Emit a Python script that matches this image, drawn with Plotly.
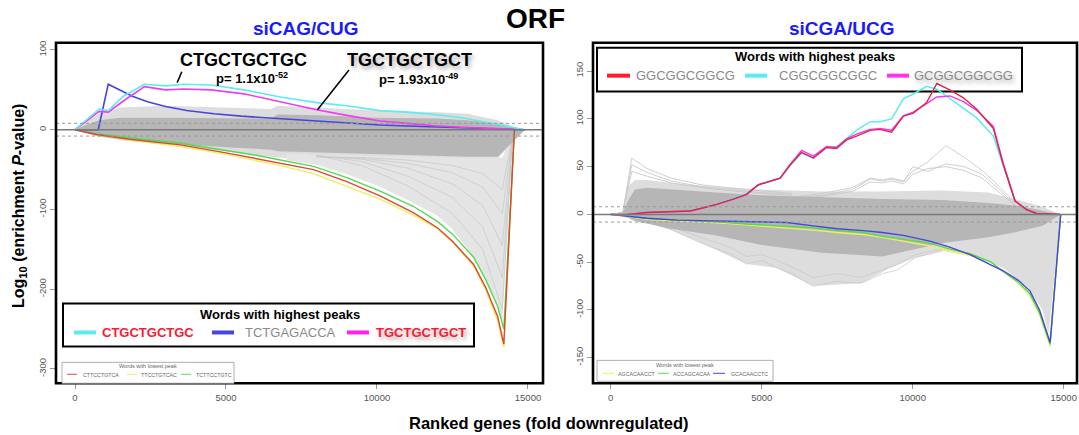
import plotly.graph_objects as go

W, H = 1079, 435
def px(x): return x / W
def py(y): return 1 - y / H

# ---------------- LEFT PANEL DATA (siCAG/CUG) ----------------
L_x_hi = [0, 500, 800, 1100, 1600, 2300, 3000, 3600, 4500, 5600, 6800, 8000, 9000, 10100, 11000, 11900, 12800, 13800, 14400, 14900]
L_y_cyan = [0, 17, 26, 24, 42, 57, 55, 57, 56, 50, 41, 34, 30, 24, 22, 19, 15, 8, 4, 0]
L_y_magenta = [0, 15, 23, 22, 36, 54, 50, 51, 50, 45, 35, 25, 18, 11, 8, 5, 3, 2, 1, 0]
L_x_blue = [0, 770, 1100, 1500, 1900, 2400, 3000, 3700, 4600, 5500, 6800, 8000, 9000, 10100, 11500, 13000, 14200, 14900]
L_y_blue = [0, 0, 57, 49, 42, 35, 29, 24, 20, 17, 14, 11, 9, 6, 4, 2, 1, 0]

L_x_lo = [0, 700, 1800, 3500, 5000, 6000, 6800, 7900, 9000, 10100, 11200, 12000, 12500, 13200, 13600, 14000, 14200, 14550]
L_y_red = [0, -6, -12, -19, -29, -36, -42, -50, -65, -83, -104, -123, -140, -169, -198, -235, -269, 0]
L_y_yellow = [0, -6, -13, -21, -31, -39, -45, -55, -71, -87, -107, -124, -141, -171, -201, -240, -273, 0]
L_y_green = [0, -5, -10, -17, -26, -32, -38, -46, -60, -77, -96, -115, -131, -160, -188, -222, -250, 0]

L_x_env = [0, 300, 800, 1500, 3000, 5000, 6500, 6700, 8000, 10000, 12000, 13000, 14000, 14500, 14900]
L_halo_top = [0, 9, 20, 28, 30, 28, 26, 30, 28, 24, 22, 20, 12, 4, 0]
L_core_top = [0, 5, 12, 15, 15, 14, 14, 19, 18, 15, 14, 12, 8, 3, 0]
L_core_bot = [0, -3, -8, -12, -17, -22, -25, -27, -29, -31, -33, -34, -34, -15, 0]
L_halo_bot = [0, -4, -9, -13, -19, -27, -34, -35, -38, -40, -40, -38, -36, -15, 0]

L_x_fan = [7000, 8000, 9000, 10000, 11000, 12000, 12500, 13000, 13500, 13900, 14150, 14500]
L_fan_top = [-30, -31, -32, -33, -34, -35, -35, -35, -35, -35, -35, -5]
L_fan_bot = [-38, -44, -56, -70, -88, -108, -125, -150, -180, -215, -240, -5]

L_x_fl = [8000, 9500, 11000, 12500, 13500, 14150, 14500]
L_y_fl = [
    [-32, -45, -70, -105, -150, -225, -5],
    [-32, -40, -58, -85, -122, -185, -5],
    [-33, -37, -48, -68, -95, -145, -5],
    [-34, -36, -42, -54, -72, -105, -5],
    [-34, -35, -38, -45, -55, -75, -5],
]

# ---------------- RIGHT PANEL DATA (siCGA/UCG) ----------------
R_x_hi = [0, 420, 1190, 2630, 3070, 3510, 4060, 4500, 4890, 5610, 5940, 6320, 6710, 7150, 7480, 7810, 8140, 8590, 8920, 9300, 9690, 10020, 10460, 10800, 11240, 11680, 12120, 12670, 13000, 13390, 13770, 14100, 14880]
R_y_red = [0, -0.5, 2, 3.5, 7, 10.5, 16, 21, 31, 38, 52, 65, 59, 70, 69, 78, 82, 88, 89, 86, 103, 106, 117, 137, 130, 122, 110, 90, 52, 14, 5, 1, 0]
R_y_magenta = [0, -0.5, 2, 3.5, 7, 10.5, 16, 21, 31, 38, 52, 67, 61, 71, 70, 79, 84, 89, 90, 88, 103, 107, 116, 123, 124, 118, 109, 92, 53, 14, 5, 1, 0]
R_y_cyan = [0, -0.5, 2, 3.5, 7, 11, 17, 22, 31, 38, 51, 64, 59, 70, 71, 80, 88, 97, 97, 100, 121, 126, 134, 131, 121, 111, 101, 82, 50, 14, 5, 1, 0]

R_x_lo = [0, 1190, 2200, 3400, 4500, 5830, 6710, 7500, 8360, 9000, 9690, 10570, 11200, 11900, 12600, 13000, 13500, 13880, 14200, 14550, 14900]
R_y_blue = [0, -4, -6, -7, -8, -8.5, -12, -15, -17, -19, -22, -28, -34, -42, -53, -59, -69, -80, -100, -134, 0]
R_y_green = [0, -4, -6, -7.5, -10, -12, -14, -17, -19, -23, -26, -30, -36, -41, -50, -60, -71, -83, -103, -136, 0]
R_y_yellow = [0, -5, -7, -8.5, -11, -14, -16.5, -19, -21, -24, -28, -33, -38, -43, -50, -60, -72, -85, -105, -138, 0]

R_x_env = [0, 400, 600, 800, 1200, 2000, 3500, 5000, 7000, 9000, 11000, 12500, 13500, 14300, 14900]
R_halo_top = [0, 3, 30, 36, 36, 33, 29, 26, 24, 24, 25, 23, 15, 8, 0]
R_core_top = [0, 2, 16, 26, 28, 26, 23, 20, 18, 16, 15, 12, 9, 4, 0]
R_core_bot = [0, -2, -4, -7, -10, -15, -22, -32, -40, -44, -30, -24, -18, -12, 0]

R_x_hb = [0, 500, 1000, 2000, 3000, 4500, 5500, 6700, 8300, 9200, 10100, 11000, 12000, 13000, 13800, 14300, 14500, 14900]
R_halo_bot = [0, -3, -6, -16, -30, -52, -56, -75, -72, -57, -45, -38, -44, -56, -76, -100, -125, 0]

R_x_sp = [0, 400, 700, 1200, 2000, 3000, 4500, 6000]
R_y_sp = [
    [0, 2, 59, 48, 38, 31, 26, 22],
    [0, 2, 52, 44, 35, 29, 24, 21],
    [0, 2, 45, 40, 33, 28, 23, 20],
]

R_x_gl = [6000, 7000, 8000, 8600, 9000, 9300, 9700, 10000, 10500, 11100, 11700, 12300, 12900, 13400]
R_y_gl = [
    [18, 22, 28, 38, 36, 38, 35, 45, 55, 72, 60, 46, 28, 12],
    [17, 20, 26, 37, 35, 37, 34, 50, 45, 53, 50, 42, 25, 10],
    [16, 19, 24, 34, 33, 35, 32, 42, 48, 50, 46, 38, 22, 9],
]

R_x_ll = [1000, 2000, 3000, 4000, 4500, 5000, 5500, 6000, 6700, 7500, 8300, 9000, 9500, 10100, 11000]
R_y_ll = [
    [-6, -16, -30, -42, -52, -48, -56, -62, -75, -70, -72, -62, -58, -45, -38],
    [-5, -13, -24, -35, -44, -42, -48, -55, -66, -62, -66, -58, -52, -42, -36],
]

SIG = 8
X_TICKS = [0, 5000, 10000, 15000]
L_Y_TICKS = [-300, -200, -100, 0, 100]
R_Y_TICKS = [-150, -100, -50, 0, 50, 100, 150]

C_CYAN = "#5cecf0"
C_BLUE = "#4646dc"
C_MAG = "#ee3cee"
C_RED_L = "#e0443a"
C_RED_R = "#dc2846"
C_YEL = "#f0ee5a"
C_GRN = "#50dc50"
CORE = "#b6b6b6"
HALO = "#dddddd"
FAN = "#e4e4e4"
GLINE = "#cacaca"

fig = go.Figure()

def band(xs, top, bot, color, xa, ya):
    fig.add_trace(go.Scatter(x=xs + xs[::-1], y=top + bot[::-1], fill="toself",
                             fillcolor=color, line=dict(width=0), mode="lines",
                             hoverinfo="skip", showlegend=False, xaxis=xa, yaxis=ya))

def line(xs, ys, color, w, xa, ya):
    fig.add_trace(go.Scatter(x=xs, y=ys, mode="lines", line=dict(color=color, width=w),
                             hoverinfo="skip", showlegend=False, xaxis=xa, yaxis=ya))

# left gray mass
band(L_x_env, L_halo_top, L_halo_bot, HALO, "x", "y")
band(L_x_fan, L_fan_top, L_fan_bot, FAN, "x", "y")
for ys in L_y_fl:
    line(L_x_fl, ys, GLINE, 0.8, "x", "y")
band(L_x_env, L_core_top, L_core_bot, CORE, "x", "y")
# left coloured
line(L_x_lo, L_y_yellow, C_YEL, 1.4, "x", "y")
line(L_x_lo, L_y_green, C_GRN, 1.4, "x", "y")
line(L_x_lo, L_y_red, C_RED_L, 1.4, "x", "y")
line(L_x_blue, L_y_blue, C_BLUE, 1.6, "x", "y")
line(L_x_hi, L_y_magenta, C_MAG, 1.6, "x", "y")
line(L_x_hi, L_y_cyan, C_CYAN, 1.6, "x", "y")

# right gray mass
band(R_x_env, R_halo_top, [0] * len(R_x_env), HALO, "x2", "y2")
band(R_x_hb, [0] * len(R_x_hb), R_halo_bot, HALO, "x2", "y2")
for ys in R_y_ll:
    line(R_x_ll, ys, GLINE, 0.8, "x2", "y2")
for ys in R_y_sp:
    line(R_x_sp, ys, GLINE, 0.9, "x2", "y2")
for ys in R_y_gl:
    line(R_x_gl, ys, GLINE, 0.9, "x2", "y2")
band(R_x_env, R_core_top, R_core_bot, CORE, "x2", "y2")
# right coloured
line(R_x_lo, R_y_yellow, C_YEL, 1.4, "x2", "y2")
line(R_x_lo, R_y_green, C_GRN, 1.4, "x2", "y2")
line(R_x_lo, R_y_blue, C_BLUE, 1.4, "x2", "y2")
line(R_x_hi, R_y_cyan, C_CYAN, 1.5, "x2", "y2")
line(R_x_hi, R_y_magenta, C_MAG, 1.5, "x2", "y2")
line(R_x_hi, R_y_red, C_RED_R, 1.4, "x2", "y2")

FONT = "Liberation Sans, Arial, sans-serif"
tickfont = dict(family=FONT, size=9.5, color="#555")

def xax(domain, rng):
    return dict(domain=domain, range=rng, tickvals=X_TICKS, ticktext=[str(v) for v in X_TICKS],
                ticks="outside", ticklen=5, tickcolor="#999", showgrid=False, zeroline=False,
                showline=False, tickfont=tickfont)

def yax(domain, rng, tv, anchor):
    return dict(domain=domain, range=rng, tickvals=tv, ticktext=[str(v) for v in tv],
                ticks="outside", ticklen=5, tickcolor="#999", showgrid=False, zeroline=False,
                showline=False, tickfont=tickfont, tickangle=-90, anchor=anchor)

fig.update_layout(
    width=W, height=H, margin=dict(l=0, r=0, t=0, b=0),
    paper_bgcolor="white", plot_bgcolor="white", showlegend=False,
    xaxis=dict(**xax([px(56), px(543)], [-629, 15497]), anchor="y"),
    yaxis=yax([py(383), py(41)], [-318, 109], L_Y_TICKS, "x"),
    xaxis2=dict(**xax([px(593), px(1077)], [-586, 15440]), anchor="y2"),
    yaxis2=yax([py(383), py(41)], [-176.7, 179.6], R_Y_TICKS, "x2"),
)

shapes = []
for xr, yr in (("x", "y"), ("x2", "y2")):
    for yv, dash, col, w in ((SIG, "dot", "#999", 1), (-SIG, "dot", "#999", 1), (0, "solid", "#7a7a7a", 1.5)):
        shapes.append(dict(type="line", xref=xr + " domain", yref=yr, x0=0, x1=1, y0=yv, y1=yv,
                           line=dict(color=col, width=w, dash=dash), layer="above"))
    shapes.append(dict(type="rect", xref=xr + " domain", yref=yr + " domain", x0=0, x1=1, y0=0, y1=1,
                       line=dict(color="black", width=2.6), layer="above"))

def pline(x0, y0, x1, y1, color, w, layer="above"):
    shapes.append(dict(type="line", xref="paper", yref="paper", x0=px(x0), y0=py(y0), x1=px(x1), y1=py(y1),
                       line=dict(color=color, width=w), layer=layer))

def prect(x0, y0, x1, y1, w, color="black", layer="above"):
    shapes.append(dict(type="rect", xref="paper", yref="paper", x0=px(x0), y0=py(y0), x1=px(x1), y1=py(y1),
                       line=dict(color=color, width=w), fillcolor="white", layer=layer))

# leader lines
pline(181.8, 70, 177.2, 81, "black", 1.5)
pline(349, 68.3, 317.5, 108.3, "black", 1.5)

# legend boxes
prect(63, 303, 474, 346, 2)
pline(74, 332, 96, 332, C_CYAN, 4)
pline(212, 332, 234, 332, C_BLUE, 4)
pline(347, 332, 369, 332, "#ff22ee", 4)

prect(597, 46, 1022, 90, 2, layer="below")
pline(607, 74, 630, 74, "#ff1a30", 4, layer="below")
pline(745, 74, 767, 74, C_CYAN, 4, layer="below")
pline(887, 74, 909, 74, "#ff33ee", 4, layer="below")

prect(62, 362, 234, 383, 0.8, "#999")
pline(67, 374, 77, 374, "#e04040", 1)
pline(127, 374, 137, 374, "#eeee55", 1)
pline(181, 374, 191, 374, "#55dd55", 1)

prect(597, 360, 773, 381, 0.8, "#999")
pline(603, 373, 614, 373, "#eeee55", 1)
pline(658, 373, 669, 373, "#55dd55", 1)
pline(713, 373, 725, 373, "#4444dd", 1)

fig.update_layout(shapes=shapes)

ann = []
def text(x, y, s, size, color="black", bold=False, angle=0, shadow=None, xanchor="center"):
    f = dict(family=FONT, size=size, color=color)
    if shadow:
        f["shadow"] = shadow
    ann.append(dict(x=px(x), y=py(y), xref="paper", yref="paper", text=("<b>%s</b>" % s) if bold else s,
                    showarrow=False, font=f, textangle=angle, xanchor=xanchor, yanchor="middle"))

SH = "2px 3px 4px rgba(0,0,0,0.35)"
text(535, 17, "ORF", 28, bold=True)
text(306, 27, "siCAG/CUG", 19, color="#1a1aff", bold=True)
text(842, 27, "siCGA/UCG", 19, color="#1a1aff", bold=True)
text(19, 205, "Log<sub>10</sub> (enrichment <i>P</i>-value)", 16, bold=True, angle=-90)
text(549, 423, "Ranked genes (fold downregulated)", 16.5, bold=True)

text(243, 58, "CTGCTGCTGC", 18, bold=True)
text(252, 76, "p= 1.1x10<sup>-52</sup>", 13, bold=True)
text(410, 58, "TGCTGCTGCT", 18, bold=True, shadow=SH)
text(418, 77, "p= 1.93x10<sup>-49</sup>", 13, bold=True)

text(280, 314, "Words with highest peaks", 13, bold=True)
text(100, 332, "CTGCTGCTGC", 13, color="#ff1a33", bold=True, xanchor="left")
text(243, 332, "TCTGAGACCA", 13, color="#8a8a8a", xanchor="left")
text(374, 332, "TGCTGCTGCT", 13, color="#ff1a33", bold=True, shadow=SH, xanchor="left")

text(815, 55, "Words with highest peaks", 13, bold=True)
text(634, 74, "GGCGGCGGCG", 13, color="#8a8a8a", xanchor="left")
text(777, 74, "CGGCGGCGGC", 13, color="#8a8a8a", xanchor="left")
text(912, 74, "GCGGCGGCGG", 13, color="#8a8a8a", shadow=SH, xanchor="left")

text(148, 366, "Words with lowest peak", 5.5, color="#666")
text(81, 375, "CTTCCTGTCA", 5.3, color="#666", xanchor="left")
text(139, 375, "TTCCTGTCAC", 5.3, color="#666", xanchor="left")
text(194, 375, "TCTTCCTGTC", 5.3, color="#666", xanchor="left")

text(685, 365, "Words with lowest peak", 5.5, color="#666")
text(616, 374, "AGCACAACCT", 5.3, color="#666", xanchor="left")
text(671, 374, "ACCAGCACAA", 5.3, color="#666", xanchor="left")
text(729, 374, "GCACAACCTC", 5.3, color="#666", xanchor="left")

fig.update_layout(annotations=ann)
fig.write_html("out.html")
